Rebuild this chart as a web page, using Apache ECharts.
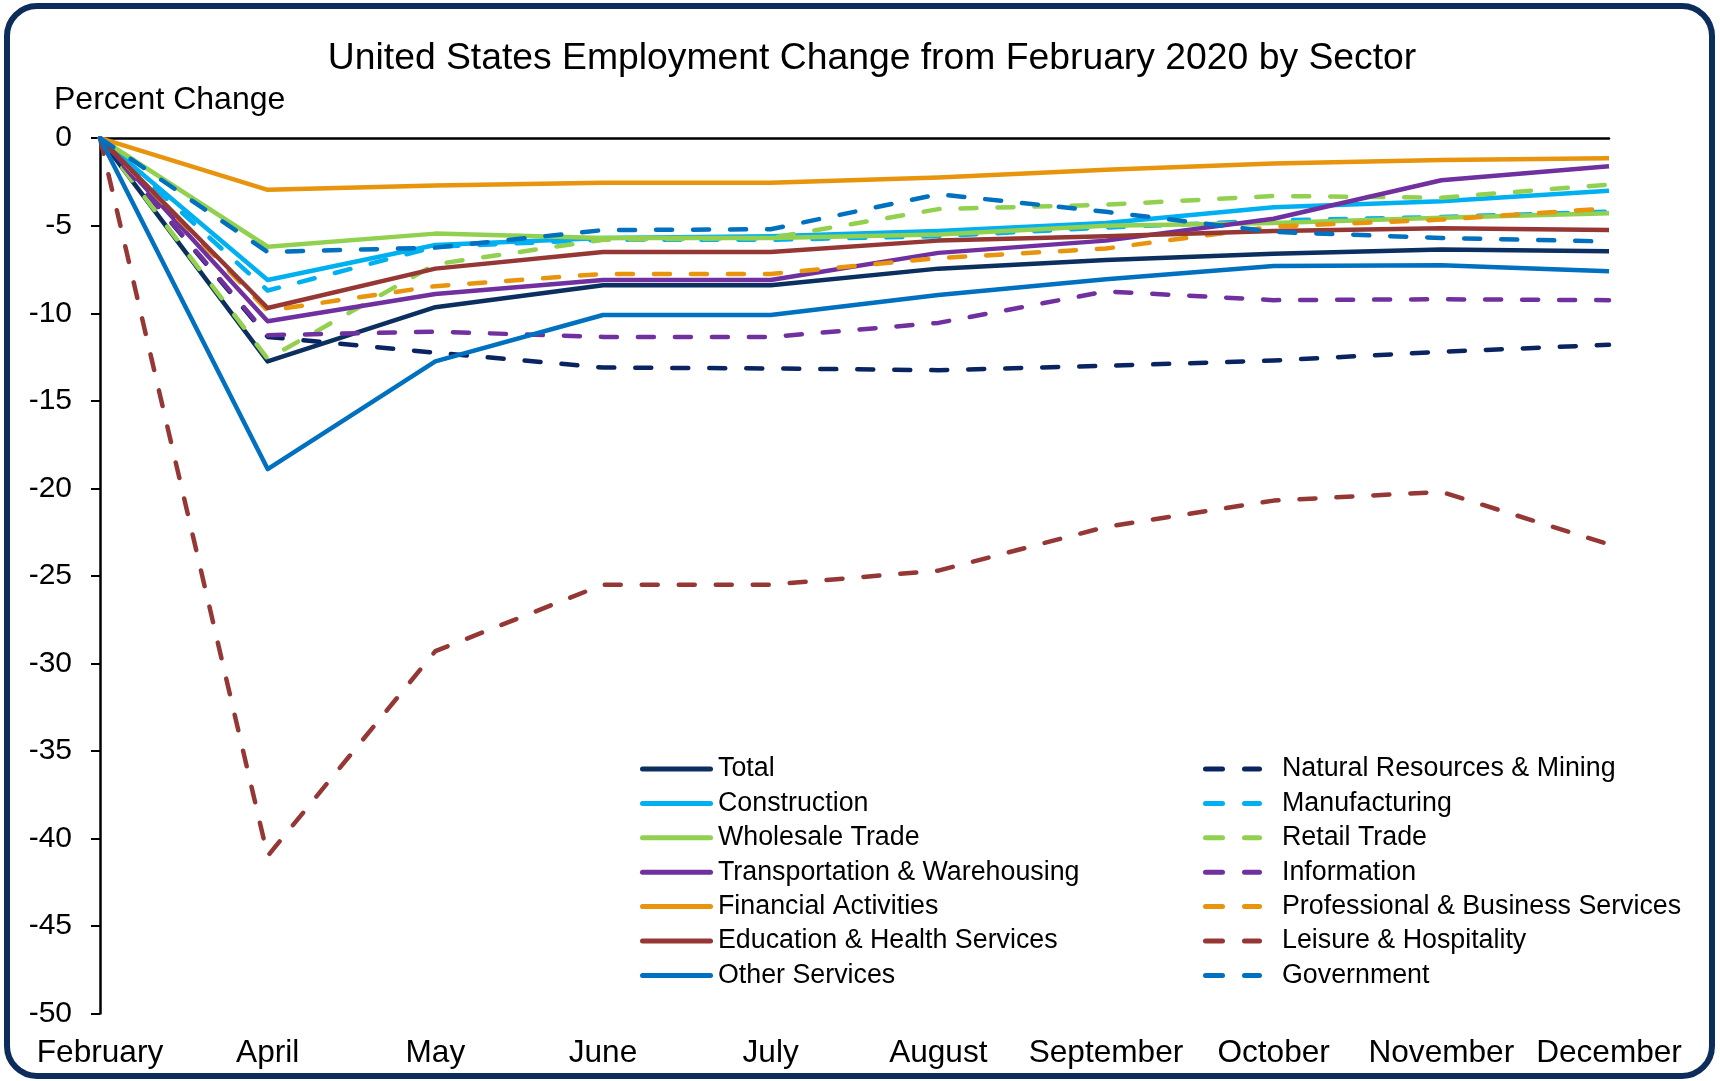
<!DOCTYPE html>
<html>
<head>
<meta charset="utf-8">
<script src="https://cdn.jsdelivr.net/npm/echarts@6/dist/echarts.min.js"></script>
<style>
  html, body { margin: 0; padding: 0; background: #ffffff; }
  #chart { width: 1720px; height: 1081px; }
</style>
</head>
<body>
<div id="chart"></div>
<script>
// Months since February 2020 (March not shown)
const months = ['February', 'April', 'May', 'June', 'July', 'August', 'September', 'October', 'November', 'December'];

// Percent change in employment from February 2020
const total          = [0, -12.75, -9.65, -8.4, -8.4, -7.45, -6.95, -6.6, -6.35, -6.45];
const naturalRes     = [0, -11.35, -12.25, -13.1, -13.15, -13.25, -13.0, -12.7, -12.2, -11.8];
const construction   = [0, -8.1, -6.1, -5.7, -5.6, -5.3, -4.85, -3.95, -3.6, -3.0];
const manufacturing  = [0, -8.7, -6.2, -5.8, -5.8, -5.6, -5.1, -4.7, -4.5, -4.2];
const wholesale      = [0, -6.2, -5.45, -5.7, -5.7, -5.5, -5.0, -4.85, -4.55, -4.28];
const retail         = [0, -12.6, -7.2, -5.8, -5.7, -4.05, -3.8, -3.3, -3.4, -2.65];
const transportation = [0, -10.45, -8.9, -8.1, -8.1, -6.55, -5.85, -4.6, -2.4, -1.6];
const information    = [0, -11.25, -11.05, -11.35, -11.35, -10.55, -8.75, -9.25, -9.2, -9.25];
const financial      = [0, -2.95, -2.7, -2.55, -2.55, -2.25, -1.8, -1.45, -1.25, -1.15];
const professional   = [0, -9.85, -8.45, -7.75, -7.75, -6.85, -6.3, -5.05, -4.65, -4.0];
const education      = [0, -9.7, -7.45, -6.5, -6.5, -5.85, -5.6, -5.3, -5.15, -5.25];
const leisure        = [0, -41.0, -29.3, -25.5, -25.5, -24.7, -22.2, -20.7, -20.2, -23.2];
const otherServices  = [0, -18.9, -12.75, -10.1, -10.1, -8.95, -8.05, -7.3, -7.25, -7.6];
const government     = [0, -6.5, -6.25, -5.25, -5.2, -3.2, -4.2, -5.35, -5.7, -5.9];

// Y axis range and step
const yMin = -50, yMax = 0, yStep = 5;

const FONT = '"Liberation Sans", Arial, sans-serif';
const LINE_W = 4.5;
const DASH = [16, 21];

// Sector lines, in drawing order
const sectors = [
  { name: 'Total',                           data: total,          color: '#0B2F5E', dashed: false },
  { name: 'Natural Resources & Mining',      data: naturalRes,     color: '#0A2462', dashed: true  },
  { name: 'Construction',                    data: construction,   color: '#00B0F0', dashed: false },
  { name: 'Manufacturing',                   data: manufacturing,  color: '#00B0F0', dashed: true  },
  { name: 'Wholesale Trade',                 data: wholesale,      color: '#92D050', dashed: false },
  { name: 'Retail Trade',                    data: retail,         color: '#92D050', dashed: true  },
  { name: 'Transportation & Warehousing',    data: transportation, color: '#7030A0', dashed: false },
  { name: 'Information',                     data: information,    color: '#7030A0', dashed: true  },
  { name: 'Financial Activities',            data: financial,      color: '#E8940C', dashed: false },
  { name: 'Professional & Business Services',data: professional,   color: '#E8940C', dashed: true  },
  { name: 'Education & Health Services',     data: education,      color: '#953735', dashed: false },
  { name: 'Leisure & Hospitality',           data: leisure,        color: '#953735', dashed: true  },
  { name: 'Other Services',                  data: otherServices,  color: '#0070C0', dashed: false },
  { name: 'Government',                      data: government,     color: '#0070C0', dashed: true  }
];

const series = sectors.map(s => ({
  name: s.name,
  type: 'line',
  data: s.data,
  xAxisIndex: 0,
  yAxisIndex: 0,
  symbol: 'none',
  showSymbol: false,
  smooth: false,
  color: s.color,
  lineStyle: {
    color: s.color,
    width: LINE_W,
    type: s.dashed ? DASH : 'solid',
    cap: s.dashed ? 'round' : 'butt',
    join: 'round'
  },
  emphasis: { disabled: true }
}));

// Legend keys: a rounded bar for solid lines, two rounded dashes for dashed lines
const SOLID_ICON = 'path://M2.5,0 H70.5 A2.5,2.5 0 0 1 70.5,5 H2.5 A2.5,2.5 0 0 1 2.5,0 Z';
const DASH_ICON = 'path://M2.5,0 H19.5 A2.5,2.5 0 0 1 19.5,5 H2.5 A2.5,2.5 0 0 1 2.5,0 Z ' +
                  'M41.5,0 H56.5 A2.5,2.5 0 0 1 56.5,5 H41.5 A2.5,2.5 0 0 1 41.5,0 Z M74,0 L74,5';

const legendText = { fontFamily: FONT, fontSize: 26.8, color: '#000', lineHeight: 30 };

const option = {
  animation: false,
  backgroundColor: '#ffffff',
  textStyle: { fontFamily: FONT },
  graphic: [
    {
      type: 'rect',
      shape: { x: 7, y: 6, width: 1705, height: 1070, r: 30 },
      style: { fill: null, stroke: '#0C2D5C', lineWidth: 6 },
      silent: true, z: 100
    },
    {
      type: 'text',
      x: 872, y: 58.5,
      style: {
        text: 'United States Employment Change from February 2020 by Sector',
        font: '37.3px ' + FONT, fill: '#000',
        textAlign: 'center', textVerticalAlign: 'middle'
      },
      silent: true
    },
    {
      type: 'text',
      x: 54, y: 100,
      style: {
        text: 'Percent Change',
        font: '32px ' + FONT, fill: '#000',
        textAlign: 'left', textVerticalAlign: 'middle'
      },
      silent: true
    }
  ],
  grid: { left: 100, top: 138.2, right: 111, bottom: 67.4, containLabel: false },
  xAxis: [
    {
      type: 'category',
      data: months,
      boundaryGap: false,
      position: 'bottom',
      axisLine: { show: false, onZero: false },
      axisTick: { show: false },
      splitLine: { show: false },
      axisLabel: { show: true, interval: 0, margin: 24, fontSize: 31.6, color: '#000', fontFamily: FONT }
    },
    {
      // zero line along the top of the plot
      type: 'category',
      data: months,
      boundaryGap: false,
      position: 'top',
      axisLine: { show: true, onZero: false, lineStyle: { color: '#000', width: 2.5 } },
      axisTick: { show: false },
      axisLabel: { show: false },
      splitLine: { show: false }
    }
  ],
  yAxis: {
    type: 'value',
    min: yMin, max: yMax, interval: yStep,
    axisLine: { show: true, lineStyle: { color: '#000', width: 2.5 } },
    axisTick: { show: true, inside: false, length: 9, lineStyle: { color: '#000', width: 2 } },
    splitLine: { show: false },
    axisLabel: { margin: 28, fontSize: 30, color: '#000', fontFamily: FONT }
  },
  legend: [
    {
      data: sectors.filter(s => !s.dashed).map(s => ({ name: s.name, icon: SOLID_ICON })),
      orient: 'vertical',
      left: 640, top: 754,
      padding: 0,
      itemWidth: 73, itemHeight: 5, itemGap: 4.4,
      selectedMode: false,
      textStyle: legendText
    },
    {
      data: sectors.filter(s => s.dashed).map(s => ({ name: s.name, icon: DASH_ICON })),
      orient: 'vertical',
      left: 1203, top: 754,
      padding: 0,
      itemWidth: 74, itemHeight: 5, itemGap: 4.4,
      selectedMode: false,
      textStyle: legendText
    }
  ],
  series: series
};

const chart = echarts.init(document.getElementById('chart'), null, { renderer: 'canvas' });
chart.setOption(option);
</script>
</body>
</html>
